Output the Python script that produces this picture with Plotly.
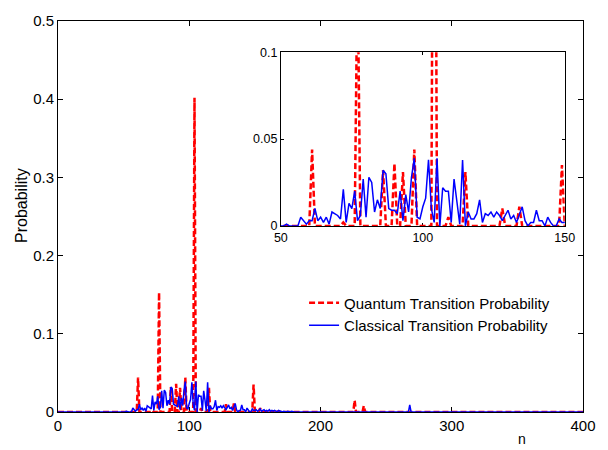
import plotly.graph_objects as go

# ---- data ----
n_values = list(range(0, 401))

# classical transition probability, n = 50 .. 150 (one value per integer n)
classical_n_dense = list(range(50, 151))
classical_p_dense = [
    0.000, 0.000, 0.001, 0.000, 0.000, 0.000, 0.000, 0.005, 0.003, 0.001,   # 50-59
    0.003, 0.003, 0.010, 0.003, 0.005, 0.002, 0.005, 0.001, 0.008, 0.007,   # 60-69
    0.006, 0.004, 0.021, 0.002, 0.013, 0.010, 0.020, 0.003, 0.006, 0.027,   # 70-79
    0.005, 0.028, 0.025, 0.008, 0.015, 0.010, 0.032, 0.030, 0.010, 0.009,   # 80-89
    0.009, 0.007, 0.020, 0.003, 0.018, 0.008, 0.028, 0.039, 0.005, 0.004,   # 90-99
    0.011, 0.016, 0.038, 0.010, 0.002, 0.039, 0.000, 0.022, 0.020, 0.020,   # 100-109
    0.002, 0.027, 0.015, 0.001, 0.038, 0.000, 0.008, 0.004, 0.004, 0.007,   # 110-119
    0.015, 0.002, 0.007, 0.006, 0.008, 0.005, 0.008, 0.006, 0.003, 0.006,   # 120-129
    0.009, 0.004, 0.006, 0.002, 0.006, 0.011, 0.003, 0.000, 0.002, 0.002,   # 130-139
    0.009, 0.003, 0.003, 0.000, 0.005, 0.002, 0.000, 0.000, 0.004, 0.002,   # 140-149
    0.002,                                                                  # 150
]
# classical values outside 50..150 that are not zero
classical_n_sparse = [151, 152, 153, 154, 155, 156, 157, 158, 159, 160, 161, 162,
                      163, 164, 165, 166, 168, 169, 172, 175, 178, 268]
classical_p_sparse = [0.003, 0.001, 0.002, 0.004, 0.001, 0.002, 0.003, 0.001, 0.002,
                      0.001, 0.003, 0.001, 0.002, 0.001, 0.002, 0.001, 0.002, 0.001,
                      0.001, 0.001, 0.001, 0.009]

# quantum transition probability: non-zero values (all other n are zero)
quantum_n = [61, 72, 77, 86, 90, 93, 97, 104, 109, 115, 128, 134, 149,
             154, 161, 166, 226, 233]
quantum_p = [0.044, 0.002, 0.153, 0.032, 0.036, 0.031, 0.044, 0.402, 0.005,
             0.031, 0.010, 0.011, 0.035, 0.005, 0.002, 0.003, 0.015, 0.008]

main_xticks = [0, 100, 200, 300, 400]
main_yticks = [0, 0.1, 0.2, 0.3, 0.4, 0.5]
inset_xticks = [50, 100, 150]
inset_yticks = [0, 0.05, 0.1]

# ---- build full series ----
classical = {n: 0.0 for n in n_values}
for n, p in zip(classical_n_dense, classical_p_dense):
    classical[n] = p
for n, p in zip(classical_n_sparse, classical_p_sparse):
    classical[n] = p
quantum = {n: 0.0 for n in n_values}
for n, p in zip(quantum_n, quantum_p):
    quantum[n] = p

q_y = [quantum[n] for n in n_values]
c_y = [classical[n] for n in n_values]

RED = "#ff0000"
BLUE = "#0000ff"
FONT = "Liberation Sans, Arial, sans-serif"
TXT = "#000000"

fig = go.Figure()
fig.add_trace(go.Scatter(x=n_values, y=q_y, mode="lines", name="Quantum Transition Probability",
                         line=dict(color=RED, width=2.5, dash="6px,3px"), xaxis="x", yaxis="y"))
fig.add_trace(go.Scatter(x=n_values, y=c_y, mode="lines", name="Classical Transition Probability",
                         line=dict(color=BLUE, width=1.5), xaxis="x", yaxis="y"))
fig.add_trace(go.Scatter(x=n_values, y=q_y, mode="lines", showlegend=False,
                         line=dict(color=RED, width=2.5, dash="6px,3px"), xaxis="x2", yaxis="y2"))
fig.add_trace(go.Scatter(x=n_values, y=c_y, mode="lines", showlegend=False,
                         line=dict(color=BLUE, width=1.5), xaxis="x2", yaxis="y2"))

axis_common = dict(showline=True, linecolor="black", linewidth=1, mirror="ticks",
                   ticks="inside", tickcolor="black", showgrid=False, zeroline=False,
                   layer="below traces")

fig.update_layout(
    width=608, height=450,
    margin=dict(l=58, r=23, t=13, b=38),
    paper_bgcolor="white", plot_bgcolor="white",
    font=dict(family=FONT, color=TXT),
    xaxis=dict(domain=[0, 1], range=[0, 400], tickvals=main_xticks, ticklen=5,
               tickfont=dict(size=15), anchor="y", **axis_common),
    yaxis=dict(domain=[0, 1], range=[0, 0.5], tickvals=main_yticks, ticklen=5,
               tickfont=dict(size=15), anchor="x", **axis_common),
    xaxis2=dict(domain=[0.4245, 0.9653], range=[50, 150], tickvals=inset_xticks, ticklen=3,
                tickfont=dict(size=12.5), anchor="y2", **axis_common),
    yaxis2=dict(domain=[0.476, 0.920], range=[0, 0.1], tickvals=inset_yticks, ticklen=3,
                tickfont=dict(size=12.5), anchor="x2", **axis_common),
    legend=dict(x=0.4687, y=0.3208, xanchor="left", yanchor="top",
                bgcolor="rgba(255,255,255,0)", borderwidth=0,
                font=dict(size=15, family=FONT, color=TXT), itemwidth=30,
                tracegroupgap=0),
    showlegend=True,
    annotations=[
        dict(text="Probability", x=-0.0708, y=0.529, xref="paper", yref="paper",
             textangle=-90, showarrow=False, xanchor="center", yanchor="middle",
             font=dict(size=16, family=FONT, color=TXT)),
        dict(text="n", x=0.884, y=-0.0940, xref="paper", yref="paper",
             showarrow=False, xanchor="center", yanchor="bottom",
             font=dict(size=14, family=FONT, color=TXT)),
    ],
)

fig.write_html("out.html")
